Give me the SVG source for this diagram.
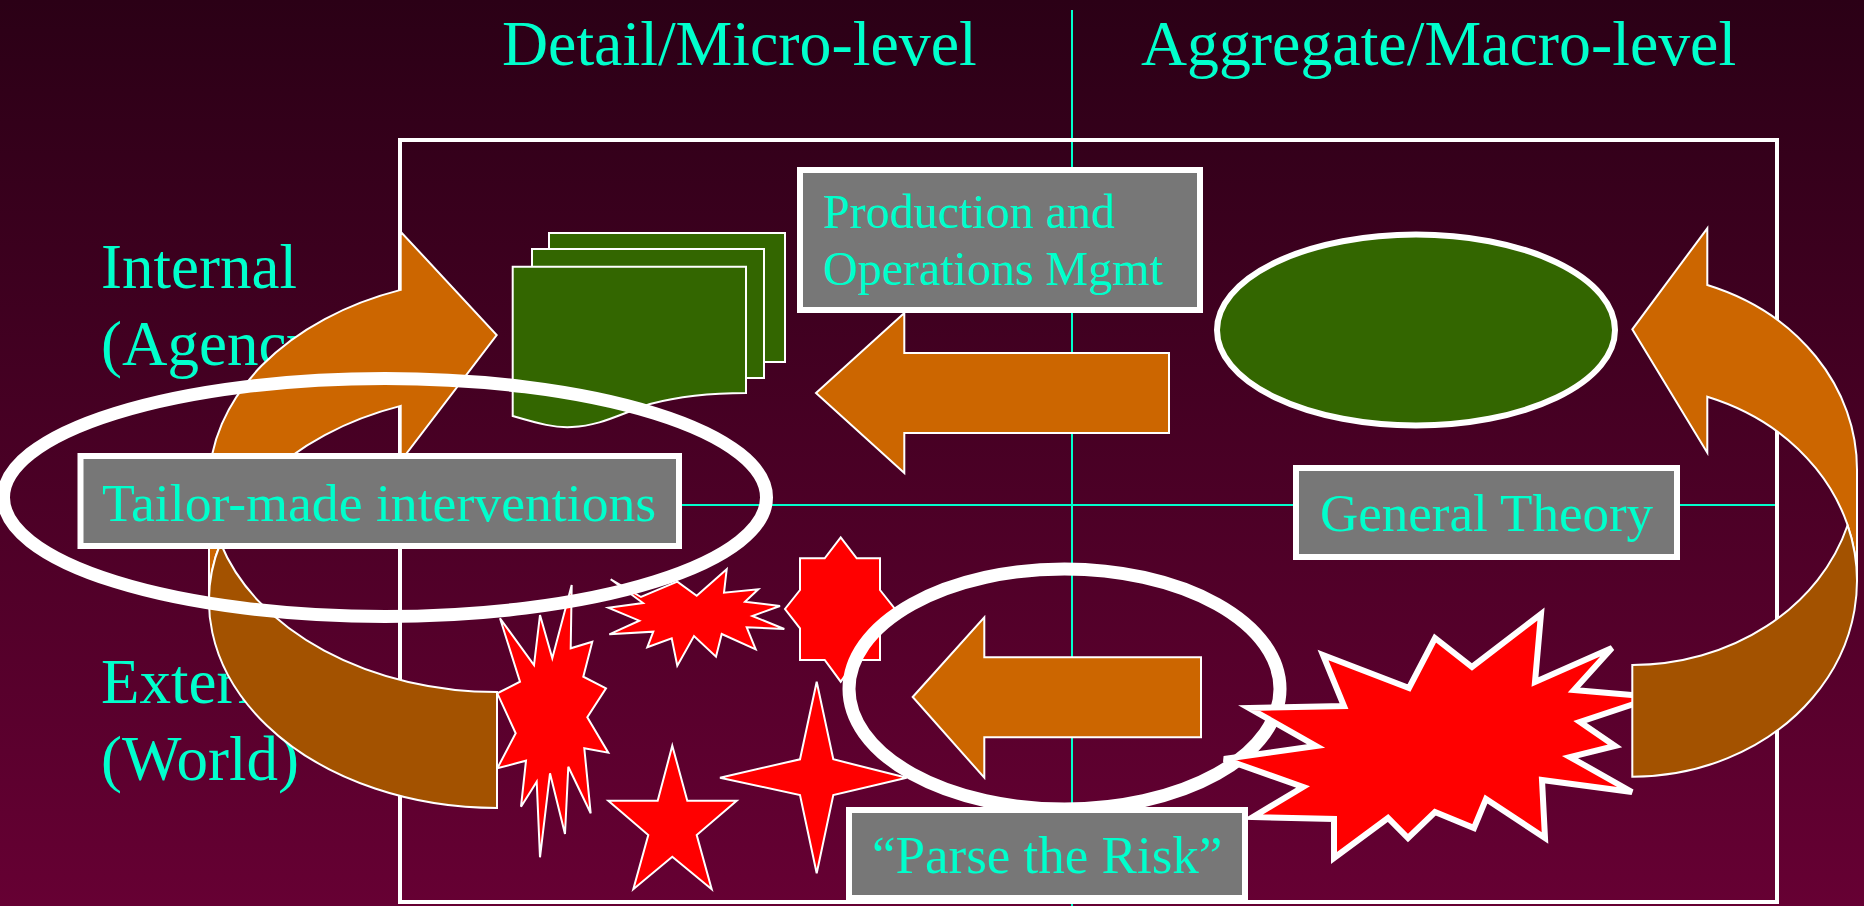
<svg xmlns="http://www.w3.org/2000/svg" width="1864" height="906" viewBox="0 0 1864 906">
<defs>
<linearGradient id="bg" x1="0" y1="0" x2="0" y2="1">
<stop offset="0" stop-color="#2B0016"/>
<stop offset="1" stop-color="#660033"/>
</linearGradient>
<style>
.cy{fill:#00FFCC;font-family:"Liberation Serif","Times New Roman",serif}
.box{fill:#777777;stroke:#FFFFFF;stroke-width:6}
.org{fill:#CC6600;stroke:#FFFFFF;stroke-width:2;stroke-linejoin:miter}
.dk{fill:#A35200;stroke:#FFFFFF;stroke-width:2}
.red{fill:#FF0000;stroke:#FFFFFF;stroke-width:2}
.grn{fill:#336600;stroke:#FFFFFF;stroke-width:2}
.ring{fill:none;stroke:#FFFFFF;stroke-width:13}
.axis{stroke:#00FFCC;stroke-width:2;fill:none}
</style>
</defs>
<rect x="0" y="0" width="1864" height="906" fill="url(#bg)"/>

<g id="axes">
<line class="axis" x1="1072" y1="10" x2="1072" y2="906"/>
<line class="axis" x1="400" y1="505" x2="1777" y2="505"/>
</g>
<rect id="frame" x="400" y="140" width="1377" height="762" fill="none" stroke="#FFFFFF" stroke-width="4"/>

<g id="row-labels">
<text class="cy" x="101" y="288" font-size="63">Internal</text>
<text class="cy" x="101" y="365" font-size="63">(Agency)</text>
<text class="cy" x="101" y="703" font-size="63">External</text>
<text class="cy" x="101" y="780" font-size="63">(World)</text>
</g>

<g id="documents">
<rect class="grn" x="549" y="233" width="236" height="129"/>
<rect class="grn" x="532" y="249" width="232" height="129"/>
<path class="grn" d="M512.7,266.7 H746 V393 C710,393 680,396 650,404 C620,414 600,426 572,427 C555,428 540,424 512.7,416 Z"/>
</g>

<ellipse id="green-ellipse" cx="1416" cy="330" rx="199" ry="95.5" style="fill:#336600;stroke:#FFFFFF;stroke-width:6"/>

<g id="production">
<rect class="box" x="800" y="170" width="400" height="140"/>
<text class="cy" x="823" y="228" font-size="48">Production and</text>
<text class="cy" x="823" y="285" font-size="48">Operations Mgmt</text>
</g>

<g id="connectors">
<polygon id="arrow-upper" class="org" points="816,393 904.3,313 904.3,353 1169,353 1169,433 904.3,433 904.3,473"/>
<polygon id="arrow-lower" class="org" points="912.7,697 984.3,617.3 984.3,657.3 1201,657.3 1201,737.3 984.3,737.3 984.3,777.7"/>
</g>

<g id="bursts">
<polygon class="red" points="500,618.3 534,665 540,615 552.3,658.3 571.7,585 570.7,648.3 592.3,641.7 583.3,676.7 606,688.3 587.3,717.3 608.3,752.7 584.3,748.3 590.7,813.3 568.3,766.7 565,834 550,773.3 540,857.3 536.7,781.7 521,806.7 526,760.7 497.3,768.3 515.7,733.3 497.3,693.3 520,681.7"/>
<polygon class="red" points="610.7,579.3 641,597 677.3,581.7 696.7,595.7 726.7,569.3 724,592.7 758.3,589.3 745,601.7 780,606 752.3,616 784.3,629 746.7,627.3 755.7,649.3 721.7,634 716,656.7 694,636 677.3,665.7 671.7,638.3 647.3,647.3 653.3,631.7 609.3,634.3 639.3,620.7 608.3,607.7 643,603"/>
<polygon class="red" points="840.7,537.3 856.7,558.3 880,558.3 880,590 895,609 880,628.3 880,660 856.7,660 840.7,681.7 824.7,660 800,660 800,628.3 785,609 800,590 800,558.3 824.7,558.3"/>
<polygon class="red" points="672.3,745.7 687.3,800.7 736.7,800.7 696.7,835 711.7,889.3 672.3,856.7 633.3,889.3 648.3,835 608.3,800.7 657.7,800.7"/>
<polygon class="red" points="816.7,681.7 833.3,759.3 906.7,777.7 833.3,795 816.7,873.3 800,795 720,777.7 800,759.3"/>
</g>

<g id="curved-left">
<path class="org" d="M209,601 A288,207 0 0 1 400.7,405.9 L400.7,461 L496.7,335 L400.7,231.7 L400.7,289.9 A288,207 0 0 0 209,485 Z"/>
<path class="dk" d="M497,692 A288,207 0 0 1 220.5,543 A288,207 0 0 0 497,808 Z"/>
</g>

<ellipse id="ring-left" class="ring" cx="385" cy="497.5" rx="381.5" ry="119"/>
<ellipse id="ring-parse" class="ring" cx="1064.5" cy="689" rx="215.5" ry="120"/>

<polygon id="big-burst" points="1323,655 1409,688 1435,638 1472,667 1541,614 1535,682 1612,648 1574,690 1655,697 1580,722 1615,746 1570,757 1632,792 1542,780 1545,838 1486,799 1474,828 1435,812 1408,838 1388,818 1334,858 1334,819 1253,817 1303,787 1224,759 1316,746 1249,708 1344,706" style="fill:#FF0000;stroke:#FFFFFF;stroke-width:6"/>

<g id="curved-right">
<path class="org" d="M1857,581.1 A224.7,195.6 0 0 0 1707.3,396.7 L1707.3,452.7 L1632.3,329.3 L1707.3,228.3 L1707.3,285 A224.7,195.6 0 0 1 1857,469.4 Z"/>
<path class="dk" d="M1632.3,665 A224.7,195.6 0 0 0 1847.6,525.25 A224.7,195.6 0 0 1 1632.3,776.7 Z"/>
</g>

<g id="tailor">
<rect class="box" x="80.5" y="456" width="598.5" height="90"/>
<text class="cy" x="102" y="521" font-size="53.7">Tailor-made interventions</text>
</g>
<g id="general">
<rect class="box" x="1296" y="468" width="381" height="89"/>
<text class="cy" x="1320" y="531" font-size="53">General Theory</text>
</g>
<g id="parse">
<rect class="box" x="849" y="810" width="396" height="88"/>
<text class="cy" x="872" y="873" font-size="53">“Parse the Risk”</text>
</g>

<g id="titles">
<text class="cy" x="502" y="65" font-size="63.8">Detail/Micro-level</text>
<text class="cy" x="1141" y="65" font-size="63.8">Aggregate/Macro-level</text>
</g>
</svg>
